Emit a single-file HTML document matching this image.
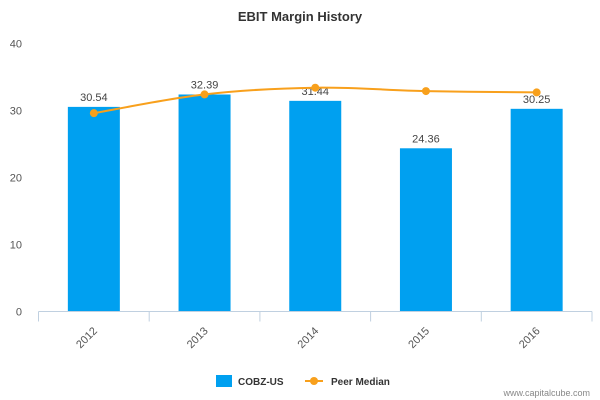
<!DOCTYPE html>
<html><head><meta charset="utf-8"><style>
body{margin:0;background:#fff;font-family:"Liberation Sans",sans-serif}
svg{display:block}
</style></head><body>
<svg width="600" height="400">
<text x="300" y="21" text-anchor="middle" font-size="13" font-weight="bold" fill="#333">EBIT Margin History</text>
<g id="yaxis"></g><g id="bars"></g><g id="line"></g><g id="xaxis"></g>
<g>
<rect x="216" y="375" width="16" height="12" fill="#00a0f0"/>
<text x="238" y="385" font-size="10" font-weight="bold" fill="#333">COBZ-US</text>
<line x1="305" y1="381" x2="323" y2="381" stroke="#f8a01c" stroke-width="2"/>
<circle cx="314" cy="381" r="4" fill="#f8a01c"/>
<text x="331" y="385" font-size="10" font-weight="bold" fill="#333">Peer Median</text>
</g>
<text x="590" y="396" text-anchor="end" font-size="9" fill="#888">www.capitalcube.com</text>
</svg>
<script>
const categories=["2012","2013","2014","2015","2016"];
const cobzValues=[30.54,32.39,31.44,24.36,30.25];
const peerValues=[29.6,32.4,33.4,32.9,32.7];
const yTicks=[0,10,20,30,40];
const NS="http://www.w3.org/2000/svg";
const x0=38.5,x1=592,yBase=311.5,yTop=43.5,yMax=40;
const bw=(x1-x0)/categories.length;
const xC=i=>x0+bw*(i+0.5);
const yS=v=>yBase-(v/yMax)*(yBase-yTop);
function mk(t,a,p){const e=document.createElementNS(NS,t);for(const k in a)e.setAttribute(k,a[k]);p.appendChild(e);return e;}
const ya=document.getElementById('yaxis');
yTicks.forEach(t=>{const e=mk('text',{x:22,y:yS(t)+4,'text-anchor':'end','font-size':11,fill:'#555'},ya);e.textContent=t;

});
const bg=document.getElementById('bars');
cobzValues.forEach((v,i)=>{const r=mk('rect',{x:xC(i)-26,y:yS(v),width:52,height:yBase-yS(v),fill:'#00a0f0'},bg);


const t=mk('text',{x:xC(i),y:yS(v)-6,'text-anchor':'middle','font-size':11,fill:'#444'},bg);t.textContent=v.toFixed(2);

});
const lg=document.getElementById('line');
const pts=peerValues.map((v,i)=>[xC(i),yS(v)]);
let d='M'+pts[0][0]+','+pts[0][1];
for(let i=0;i<pts.length-1;i++){const p0=pts[Math.max(0,i-1)],p1=pts[i],p2=pts[i+1],p3=pts[Math.min(pts.length-1,i+2)];
const c1=[p1[0]+(p2[0]-p0[0])/6,p1[1]+(p2[1]-p0[1])/6],c2=[p2[0]-(p3[0]-p1[0])/6,p2[1]-(p3[1]-p1[1])/6];
d+=' C'+c1+' '+c2+' '+p2;}
const pl=mk('path',{d:d,fill:'none',stroke:'#f8a01c','stroke-width':2},lg);


pts.forEach((p,i)=>{const c=mk('circle',{cx:p[0],cy:p[1],r:4,fill:'#f8a01c'},lg);

});
const xa=document.getElementById('xaxis');
const al=mk('line',{x1:x0,y1:yBase,x2:x1,y2:yBase,stroke:'#c0d0e0'},xa);


for(let i=0;i<=categories.length;i++){const tk=mk('line',{x1:x0+bw*i,y1:yBase,x2:x0+bw*i,y2:yBase+10,stroke:'#c0d0e0'},xa);

}
categories.forEach((c,i)=>{const x=xC(i)+4,y=yBase+20;const t=mk('text',{x:x,y:y,'text-anchor':'end','font-size':11,fill:'#555',transform:`rotate(-45 ${x} ${y})`},xa);t.textContent=c;

});
</script>
</body></html>
